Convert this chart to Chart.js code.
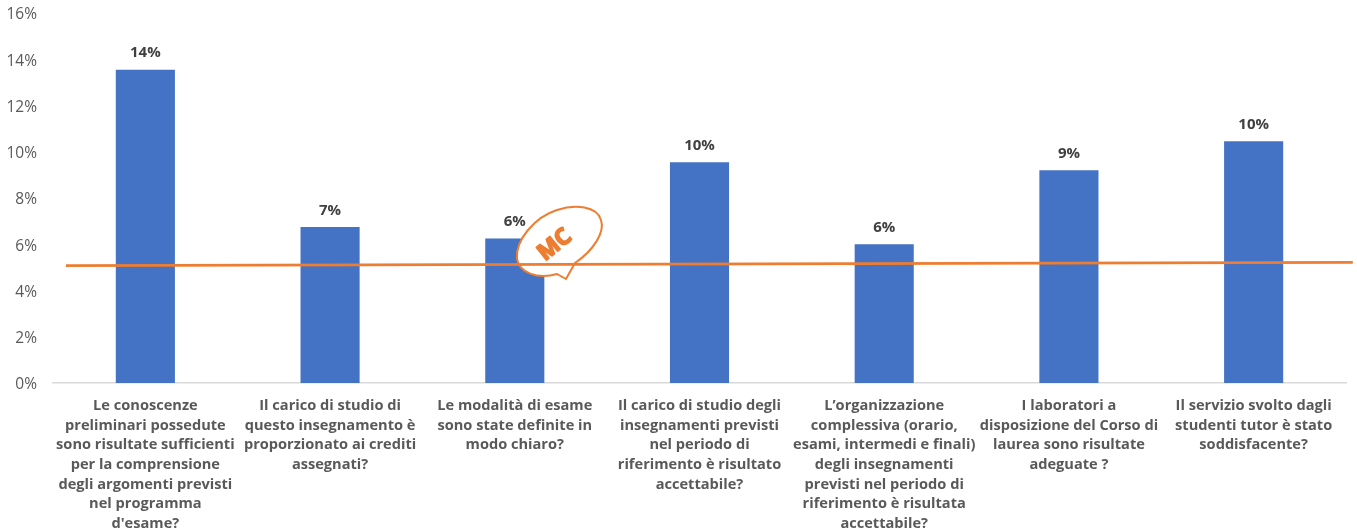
<!DOCTYPE html>
<html>
<head>
<meta charset="utf-8">
<style>
  html, body { margin: 0; padding: 0; background: #fff; }
  #wrap { position: relative; width: 1357px; height: 531px; }
</style>
<script src="https://cdn.jsdelivr.net/npm/chart.js@4"></script>
</head>
<body>
<div id="wrap"><canvas id="chart" width="1357" height="531"></canvas></div>
<script>
const categories = [
  ["Le conoscenze", "preliminari possedute", "sono risultate sufficienti", "per la comprensione", "degli argomenti previsti", "nel programma", "d'esame?"],
  ["Il carico di studio di", "questo insegnamento è", "proporzionato ai crediti", "assegnati?"],
  ["Le modalità di esame", "sono state definite in", "modo chiaro?"],
  ["Il carico di studio degli", "insegnamenti previsti", "nel periodo di", "riferimento è risultato", "accettabile?"],
  ["L’organizzazione", "complessiva (orario,", "esami, intermedi e finali)", "degli insegnamenti", "previsti nel periodo di", "riferimento è risultata", "accettabile?"],
  ["I laboratori a", "disposizione del Corso di", "laurea sono risultate", "adeguate ?"],
  ["Il servizio svolto dagli", "studenti tutor è stato", "soddisfacente?"],
];
const barValues = [13.55, 6.75, 6.25, 9.55, 6.0, 9.2, 10.45];
const barLabels = ["14%", "7%", "6%", "10%", "6%", "9%", "10%"];
// trend line ends, x in category units
const trendX = [-0.43, 6.537];
const trendY = [5.08, 5.22];

const FONT = '"Open Sans", sans-serif';
const TEXT = "#595959";

const barLabelPlugin = {
  id: "barLabels",
  afterDatasetsDraw(chart) {
    const { ctx } = chart;
    const meta = chart.getDatasetMeta(0);
    ctx.save();
    ctx.font = `bold 15px ${FONT}`;
    ctx.fillStyle = "#404040";
    ctx.textAlign = "center";
    ctx.textBaseline = "middle";
    meta.data.forEach((bar, i) => {
      ctx.fillText(barLabels[i], bar.x, bar.y - 16.5);
    });
    ctx.restore();
  },
};

// orange speech bubble logo: over the third bar, under the trend line
const logoPlugin = {
  id: "logo",
  afterDatasetDraw(chart, args) {
    if (args.index !== 0) return;
    const { ctx } = chart;
    ctx.save();
    ctx.strokeStyle = "#ED7D31";
    ctx.lineWidth = 2;
    ctx.fillStyle = "#fff";
    ctx.beginPath();
    ctx.moveTo(575, 263);
    ctx.bezierCurveTo(594, 250, 605, 232, 601, 220);
    ctx.bezierCurveTo(597, 206, 575, 204, 557, 210);
    ctx.bezierCurveTo(535, 217, 515, 240, 517, 259);
    ctx.bezierCurveTo(519, 272, 537, 280, 557, 274);
    ctx.lineTo(566, 279);
    ctx.closePath();
    ctx.fill();
    ctx.stroke();
    ctx.translate(555, 245);
    ctx.rotate(-0.68);
    ctx.fillStyle = "#ED7D31";
    ctx.strokeStyle = "#ED7D31";
    ctx.lineWidth = 1.6;
    ctx.lineJoin = "round";
    ctx.font = `bold 23px ${FONT}`;
    ctx.textAlign = "center";
    ctx.textBaseline = "middle";
    ctx.strokeText("MC", 0, 0);
    ctx.fillText("MC", 0, 0);
    ctx.restore();
  },
};

new Chart(document.getElementById("chart"), {
  type: "bar",
  data: {
    labels: categories,
    datasets: [
      {
        type: "bar",
        data: barValues,
        backgroundColor: "#4472C4",
        categoryPercentage: 1,
        barPercentage: 0.32,
        grouped: false,
        order: 1,
      },
      {
        type: "line",
        xAxisID: "xTrend",
        data: trendX.map((x, i) => ({ x, y: trendY[i] })),
        borderColor: "#ED7D31",
        borderWidth: 2.8,
        pointRadius: 0,
        clip: false,
        order: 0,
      },
    ],
  },
  options: {
    responsive: false,
    animation: false,
    layout: { padding: { left: 0, right: 11, top: 13, bottom: 0 } },
    plugins: { legend: { display: false }, tooltip: { enabled: false } },
    scales: {
      x: {
        afterFit(axis) { axis.height = 148; axis.paddingLeft = 0; axis.paddingRight = 0; },
        grid: { display: false, drawTicks: false },
        border: { color: "#D9D9D9", width: 1.5 },
        ticks: {
          color: TEXT,
          font: { family: FONT, size: 14.6, weight: "bold", lineHeight: 1.345 },
          autoSkip: false,
          maxRotation: 0,
          minRotation: 0,
          padding: 13,
        },
      },
      xTrend: {
        type: "linear",
        display: false,
        offset: false,
        min: -0.5,
        max: 6.5,
      },
      y: {
        min: 0,
        max: 16,
        afterFit(axis) { axis.width = 53; axis.paddingTop = 0; axis.paddingBottom = 0; },
        grid: { display: false, drawTicks: false },
        border: { display: false },
        ticks: {
          stepSize: 2,
          color: TEXT,
          padding: 16,
          font: { family: FONT, size: 15.5, lineHeight: "4px" },
          // empty first line nudges the label down onto its tick
          callback: (v) => ["", v + "%"],
        },
      },
    },
  },
  plugins: [barLabelPlugin, logoPlugin],
});
</script>
</body>
</html>
